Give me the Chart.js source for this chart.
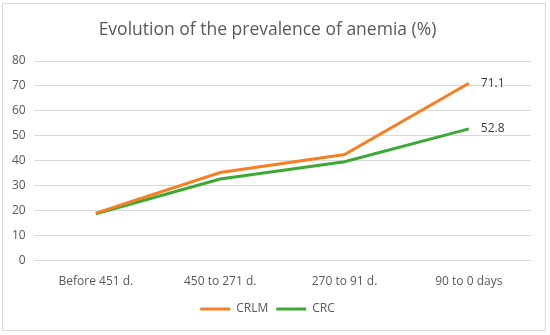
<!DOCTYPE html>
<html>
<head>
<meta charset="utf-8">
<script src="https://cdn.jsdelivr.net/npm/chart.js@4"></script>
<style>
  html, body { margin: 0; padding: 0; background: #fff; }
  #box {
    position: absolute; left: 2px; top: 3px;
    width: 542px; height: 326px;
    border: 1px solid #d9d9d9;
  }
</style>
</head>
<body>
<div id="box"><canvas id="myChart" width="542" height="326"></canvas></div>
<script>
const periods = ["Before 451 d.", "450 to 271 d.", "270 to 91 d.", "90 to 0 days"];
const crlm = [19.0, 35.3, 42.5, 71.1];
const crc = [18.8, 32.7, 39.6, 52.8];
const yTicks = [0, 10, 20, 30, 40, 50, 60, 70, 80];

// value label only on the last point of each line
const lastLabel = {
  id: "lastLabel",
  afterDatasetsDraw(chart) {
    const ctx = chart.ctx;
    ctx.save();
    ctx.font = "12px 'Open Sans'";
    ctx.fillStyle = "#404040";
    ctx.textAlign = "left";
    ctx.textBaseline = "middle";
    chart.data.datasets.forEach((ds, i) => {
      const meta = chart.getDatasetMeta(i);
      const n = ds.data.length - 1;
      const pt = meta.data[n];
      ctx.fillText(ds.data[n].toFixed(1), pt.x + 12, pt.y);
    });
    ctx.restore();
  }
};

var ctx = document.getElementById("myChart").getContext("2d");
var myChart = new Chart(ctx, {
  type: "line",
  data: {
    labels: periods,
    datasets: [
      {
        label: "CRLM",
        data: crlm,
        borderColor: "#F57F22",
        backgroundColor: "#F57F22",
        borderWidth: 3,
        pointRadius: 0,
        tension: 0
      },
      {
        label: "CRC",
        data: crc,
        borderColor: "#3CAA32",
        backgroundColor: "#3CAA32",
        borderWidth: 3,
        pointRadius: 0,
        tension: 0
      }
    ]
  },
  options: {
    responsive: false,
    animation: false,
    layout: { padding: { left: 1, right: 14, top: 8, bottom: 5 } },
    plugins: {
      title: {
        display: true,
        text: "Evolution of the prevalence of anemia (%)",
        color: "#595959",
        font: { family: "'Open Sans'", size: 17.5, weight: "normal" },
        padding: { top: 8, bottom: 20 }
      },
      legend: {
        position: "bottom",
        labels: {
          usePointStyle: true,
          pointStyle: "line",
          pointStyleWidth: 30,
          color: "#595959",
          font: { family: "'Open Sans'", size: 12 },
          padding: 8
        }
      },
      tooltip: { enabled: false }
    },
    scales: {
      x: {
        offset: true,
        grid: { display: false },
        border: { display: false },
        ticks: {
          color: "#595959",
          font: { family: "'Open Sans'", size: 12 },
          maxRotation: 0,
          padding: 6
        }
      },
      y: {
        min: yTicks[0],
        max: yTicks[yTicks.length - 1],
        afterBuildTicks: axis => { axis.ticks = yTicks.map(v => ({ value: v })); },
        grid: { color: "#d9d9d9", drawTicks: false },
        border: { display: false },
        ticks: {
          color: "#595959",
          font: { family: "'Open Sans'", size: 12 },
          padding: 8
        }
      }
    }
  },
  plugins: [lastLabel]
});
</script>
</body>
</html>
